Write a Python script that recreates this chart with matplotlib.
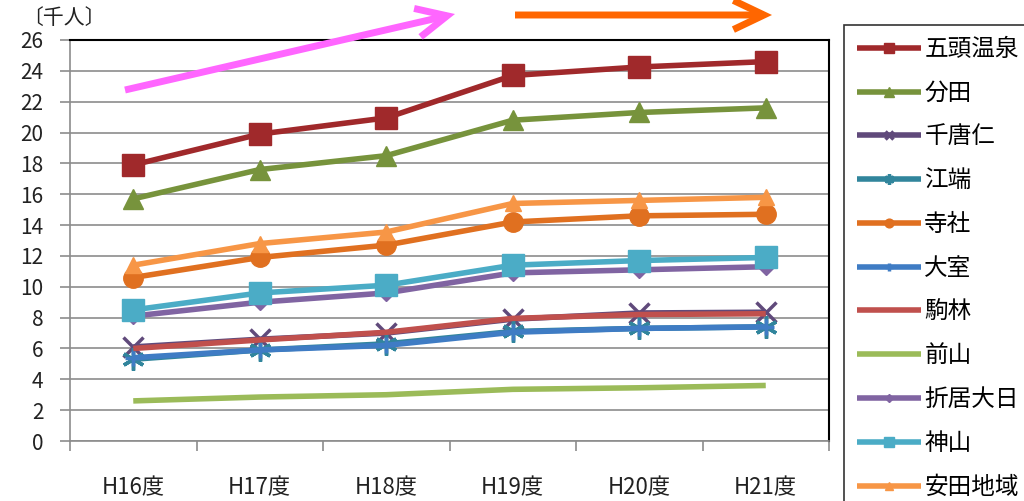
import numpy as np
import matplotlib
matplotlib.use("Agg")
import matplotlib.pyplot as plt
from matplotlib.patches import FancyArrowPatch

plt.rcParams['font.family'] = ['Noto Sans CJK JP', 'DejaVu Sans']

# 年度別 人数（千人）
years = ['H16度', 'H17度', 'H18度', 'H19度', 'H20度', 'H21度']

gozu_onsen = [17.9, 19.9, 20.95, 23.7, 24.25, 24.6]
bunden = [15.7, 17.6, 18.5, 20.8, 21.3, 21.6]
sentoujin = [6.1, 6.6, 7.0, 7.9, 8.3, 8.35]
ebata = [5.3, 5.9, 6.3, 7.1, 7.3, 7.4]
jisha = [10.6, 11.9, 12.7, 14.2, 14.6, 14.7]
oomuro = [5.4, 5.9, 6.2, 7.05, 7.3, 7.4]
komabayashi = [6.0, 6.55, 7.05, 7.95, 8.2, 8.25]
maeyama = [2.6, 2.85, 3.0, 3.35, 3.45, 3.6]
orii_dainichi = [8.1, 9.0, 9.6, 10.9, 11.1, 11.3]
kamiyama = [8.5, 9.6, 10.1, 11.4, 11.7, 11.9]
yasuda = [11.4, 12.8, 13.55, 15.4, 15.6, 15.8]

series = [
    ('五頭温泉', gozu_onsen, '#A0292B', 's', 16),
    ('分田', bunden, '#77933C', '^', 15),
    ('千唐仁', sentoujin, '#604A7B', 'x', 14),
    ('江端', ebata, '#31859C', (6, 2, 0), 16),
    ('寺社', jisha, '#E07020', 'o', 14),
    ('大室', oomuro, '#3F7CC4', '+', 12),
    ('駒林', komabayashi, '#C0504D', None, 0),
    ('前山', maeyama, '#9BBB59', None, 0),
    ('折居大日', orii_dainichi, '#8064A2', 'D', 8),
    ('神山', kamiyama, '#4BACC6', 's', 16),
    ('安田地域', yasuda, '#F79646', '^', 12),
]

W, H = 1024, 501
fig = plt.figure(figsize=(W / 100, H / 100), dpi=100)
ax = fig.add_axes([70 / W, 1 - 441 / H, (829 - 70) / W, (441 - 40) / H])

x = np.arange(len(years))
for name, vals, col, mk, ms in series:
    ax.plot(x, vals, color=col, lw=4, marker=mk, markersize=ms,
            markeredgewidth=2.5 if mk in ('x', '+', (6, 2, 0)) else 1,
            markeredgecolor=col, markerfacecolor=col, label=name,
            solid_capstyle='butt')

ax.set_xlim(-0.5, 5.5)
ax.set_ylim(0, 26)
ax.set_yticks(np.arange(0, 27, 2))
ax.yaxis.grid(True, color='#8C8C8C', lw=1.2)
ax.set_axisbelow(True)

# category boundaries get the tick marks, labels sit in the middle
ax.set_xticks(np.arange(-0.5, 6, 1))
ax.set_xticklabels([])
ax.set_xticks(x, minor=True)
ax.set_xticklabels(years, minor=True)
ax.tick_params(axis='x', which='major', direction='out', length=7, width=1.2, color='#8C8C8C')
ax.tick_params(axis='x', which='minor', length=0, pad=25, labelsize=16, labelcolor='#222222')
ax.tick_params(axis='y', direction='out', length=7, width=1.2, color='#8C8C8C',
               pad=12, labelsize=15, labelcolor='#222222')

for s in ('left', 'bottom'):
    ax.spines[s].set_color('#8C8C8C')
    ax.spines[s].set_linewidth(1.2)
for s in ('top', 'right'):
    ax.spines[s].set_color('black')
    ax.spines[s].set_linewidth(1.5)

fig.text(22 / W, 1 - 18 / H, '〔千人〕', fontsize=15, color='#222222', va='center', ha='left')

# trend arrows above the plot
def fig_arrow(x0, y0, x1, y1, col):
    arr = FancyArrowPatch((x0 / W, 1 - y0 / H), (x1 / W, 1 - y1 / H),
                          transform=fig.transFigure,
                          arrowstyle='->,head_length=2.2,head_width=1.05',
                          mutation_scale=10, lw=5, color=col,
                          shrinkA=0, shrinkB=0, capstyle='butt', joinstyle='miter')
    fig.add_artist(arr)

fig_arrow(125, 90, 455, 14, '#FF66FF')
fig_arrow(515, 15, 772, 15, '#FF6600')

leg = fig.legend(loc='upper left', bbox_to_anchor=(844 / W, 1 - 25 / H),
                 fontsize=17, markerscale=0.45, handlelength=2.7,
                 handletextpad=0.15, labelspacing=0.88, borderpad=0.55,
                 borderaxespad=0, frameon=True, fancybox=False)
leg.get_frame().set_edgecolor('black')
leg.get_frame().set_linewidth(1.2)

fig.savefig('out.png', dpi=100)
